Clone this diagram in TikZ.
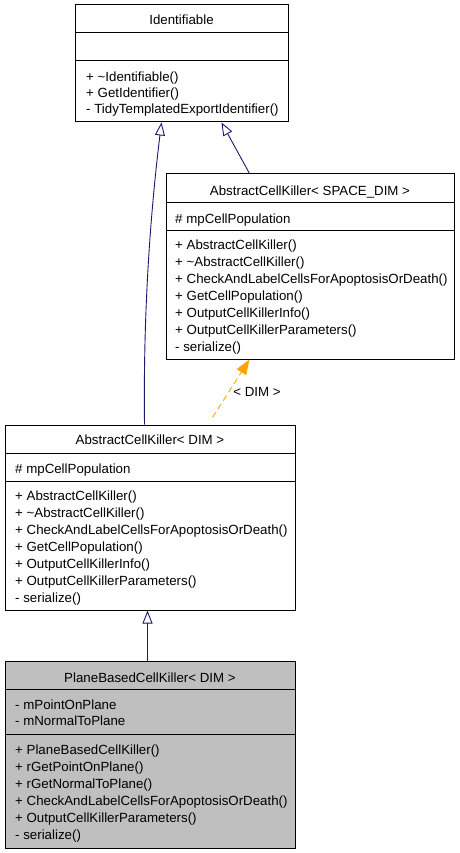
\documentclass[tikz,border=0pt]{standalone}
\usepackage{fontspec}
\setmainfont{Liberation Sans}
\usetikzlibrary{arrows.meta}
\definecolor{edgeblue}{HTML}{191970}
\definecolor{edgeorange}{HTML}{FFA500}
\definecolor{boxgray}{HTML}{BFBFBF}
\tikzset{
  umlbox/.style={draw=black, line width=1pt, rectangle, inner sep=0pt, minimum width=#1},
  ttl/.style={anchor=base, inner sep=0pt, yshift=-1.5pt, font=\fontsize{13.3}{17}\selectfont},
  ln/.style={anchor=base west, inner sep=0pt, yshift=-1.5pt, font=\fontsize{13.3}{17}\selectfont},
  divider/.style={draw=black, line width=1pt},
  inherit/.style={draw=edgeblue, line width=0.9pt, -{Triangle[open, length=13pt, width=10pt, line width=0.9pt]}},
  tmpl/.style={draw=edgeorange, line width=0.9pt, dashed, dash pattern=on 6pt off 4pt, -{Triangle[length=15pt, width=11pt]}},
}
\begin{document}
\begin{tikzpicture}[x=1pt, y=-1pt]
\useasboundingbox (0,0) rectangle (459,853);
% boxes
\node[umlbox=213pt, minimum height=117pt] (ident) at (181.5,63.5) {};
\node[umlbox=288pt, minimum height=185pt] (space) at (310,266.5) {};
\node[umlbox=290pt, minimum height=185pt] (dim) at (150,517.5) {};
\node[umlbox=290pt, minimum height=187pt, fill=boxgray] (plane) at (150,754.5) {};
% dividers
\draw[divider] (ident.west |- 0,33) -- (ident.east |- 0,33);
\draw[divider] (ident.west |- 0,61) -- (ident.east |- 0,61);
\draw[divider] (space.west |- 0,202) -- (space.east |- 0,202);
\draw[divider] (space.west |- 0,230) -- (space.east |- 0,230);
\draw[divider] (dim.west |- 0,453) -- (dim.east |- 0,453);
\draw[divider] (dim.west |- 0,481) -- (dim.east |- 0,481);
\draw[divider] (plane.west |- 0,689) -- (plane.east |- 0,689);
\draw[divider] (plane.west |- 0,734) -- (plane.east |- 0,734);
% Identifiable
\node[ttl] (identT) at (181.5,23.5) {Identifiable};
\node[ln] (identM1) at (86,80.5) {+ \textasciitilde Identifiable()};
\node[ln] (identM2) at (86,96.5) {+ GetIdentifier()};
\node[ln] (identM3) at (86,112.5) {- TidyTemplatedExportIdentifier()};
% AbstractCellKiller< SPACE_DIM >
\node[ttl] (spaceT) at (310,193.5) {AbstractCellKiller< SPACE\_DIM >};
\node[ln] (spaceA1) at (175,221.5) {\# mpCellPopulation};
\node[ln] (spaceM1) at (175,248) {+ AbstractCellKiller()};
\node[ln] (spaceM2) at (175,265) {+ \textasciitilde AbstractCellKiller()};
\node[ln] (spaceM3) at (175,282) {+ CheckAndLabelCellsForApoptosisOrDeath()};
\node[ln] (spaceM4) at (175,299) {+ GetCellPopulation()};
\node[ln] (spaceM5) at (175,316) {+ OutputCellKillerInfo()};
\node[ln] (spaceM6) at (175,333) {+ OutputCellKillerParameters()};
\node[ln] (spaceM7) at (175,349.5) {- serialize()};
% AbstractCellKiller< DIM >
\node[ttl] (dimT) at (150,442.5) {AbstractCellKiller< DIM >};
\node[ln] (dimA1) at (15,471.5) {\# mpCellPopulation};
\node[ln] (dimM1) at (15,498.5) {+ AbstractCellKiller()};
\node[ln] (dimM2) at (15,515.5) {+ \textasciitilde AbstractCellKiller()};
\node[ln] (dimM3) at (15,532.5) {+ CheckAndLabelCellsForApoptosisOrDeath()};
\node[ln] (dimM4) at (15,549.5) {+ GetCellPopulation()};
\node[ln] (dimM5) at (15,566.5) {+ OutputCellKillerInfo()};
\node[ln] (dimM6) at (15,583.5) {+ OutputCellKillerParameters()};
\node[ln] (dimM7) at (15,600.5) {- serialize()};
% PlaneBasedCellKiller< DIM >
\node[ttl] (planeT) at (150,680.5) {PlaneBasedCellKiller< DIM >};
\node[ln] (planeA1) at (15,707.5) {- mPointOnPlane};
\node[ln] (planeA2) at (15,723.5) {- mNormalToPlane};
\node[ln] (planeM1) at (15,752.5) {+ PlaneBasedCellKiller()};
\node[ln] (planeM2) at (15,769.5) {+ rGetPointOnPlane()};
\node[ln] (planeM3) at (15,786.5) {+ rGetNormalToPlane()};
\node[ln] (planeM4) at (15,803.5) {+ CheckAndLabelCellsForApoptosisOrDeath()};
\node[ln] (planeM5) at (15,820.5) {+ OutputCellKillerParameters()};
\node[ln] (planeM6) at (15,837.5) {- serialize()};
% connectors
\draw[inherit] ([xshift=140pt]dim.north west) .. controls (143,300) and (152,200) .. ([xshift=87pt]ident.south west);
\draw[inherit] ([xshift=84pt]space.north west) -- ([xshift=147pt]ident.south west);
\draw[tmpl] ([xshift=208pt,yshift=7pt]dim.north west) -- ([xshift=84pt]space.south west);
\node[anchor=center, inner sep=0pt, font=\fontsize{13.3}{17}\selectfont] (tlabel) at (257,392) {< DIM >};
\draw[inherit] ([xshift=143pt]plane.north west) -- ([xshift=143pt]dim.south west);
\end{tikzpicture}
\end{document}
